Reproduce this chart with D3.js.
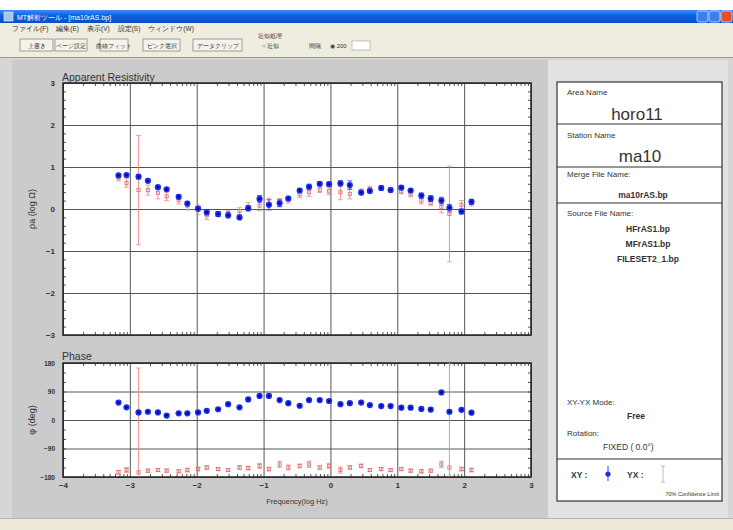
<!DOCTYPE html>
<html>
<head>
<meta charset="utf-8">
<script src="https://cdn.jsdelivr.net/npm/d3@7"></script>
<style>
  html, body { margin: 0; padding: 0; background: #ffffff; }
  svg { display: block; font-family: "Liberation Sans", Arial, sans-serif; }
</style>
</head>
<body>
<svg id="app" width="733" height="530"></svg>
<script>
// ---- station data: frequency (log10 Hz) ----
const freqLog = [-3.17,-3.05,-2.87,-2.73,-2.58,-2.45,-2.27,-2.14,-1.98,-1.85,-1.68,-1.53,-1.36,-1.23,-1.06,-0.92,-0.76,-0.63,-0.46,-0.32,-0.16,-0.02,0.15,0.29,0.46,0.59,0.76,0.90,1.06,1.20,1.36,1.50,1.66,1.78,1.96,2.11];

// apparent resistivity, log10(ohm-m)
const rhoXY    = [0.80,0.81,0.77,0.67,0.52,0.47,0.29,0.13,0.01,-0.08,-0.12,-0.15,-0.20,0.02,0.24,0.10,0.14,0.25,0.44,0.53,0.60,0.59,0.61,0.57,0.39,0.43,0.50,0.45,0.51,0.44,0.32,0.25,0.20,0.03,-0.06,0.17];
const rhoXYErr = [0.04,0.04,0.05,0.04,0.04,0.04,0.05,0.05,0.05,0.06,0.06,0.06,0.05,0.06,0.08,0.12,0.08,0.05,0.05,0.06,0.05,0.05,0.06,0.10,0.05,0.04,0.05,0.04,0.05,0.04,0.06,0.07,0.08,0.08,0.06,0.06];
const rhoYX    = [0.75,0.62,0.45,0.45,0.38,0.30,0.22,0.08,-0.02,-0.15,-0.12,-0.10,-0.05,0.05,0.08,0.12,0.15,0.22,0.35,0.40,0.45,0.42,0.40,0.36,0.42,0.48,0.50,0.46,0.42,0.35,0.20,0.15,0.05,-0.12,0.10,0.15];
const rhoYXErr = [0.08,0.10,1.30,0.12,0.14,0.10,0.10,0.10,0.12,0.10,0.06,0.06,0.08,0.10,0.12,0.14,0.10,0.08,0.08,0.10,0.06,0.08,0.18,0.12,0.06,0.06,0.06,0.06,0.06,0.06,0.08,0.06,0.14,1.14,0.10,0.08];

// impedance phase, degrees
const phiXY    = [55,40,24,26,24,14,21,21,24,29,34,50,40,65,76,76,63,53,45,63,63,60,50,53,55,47,44,44,39,39,35,33,87,26,32,23];
const phiXYErr = [4,4,4,4,4,4,4,4,4,4,4,5,4,5,5,5,5,5,5,5,5,5,6,5,5,5,5,5,5,5,5,5,6,6,5,5];
const phiYX    = [-165,-158,-165,-160,-158,-160,-162,-158,-155,-150,-155,-158,-150,-152,-145,-155,-140,-150,-145,-140,-150,-145,-158,-150,-145,-158,-155,-158,-155,-160,-162,-160,-140,-150,-155,-158];
const phiYXErr = [6,8,329,5,5,5,5,6,6,6,5,5,6,6,8,6,10,8,6,10,6,8,10,6,6,5,5,5,5,5,5,5,10,330,6,6];

// axis ticks
const freqTicks = [-4,-3,-2,-1,0,1,2,3];
const rhoTicks  = [-3,-2,-1,0,1,2,3];
const phiTicks  = [-180,-90,0,90,180];

// info panel text
const areaName    = "horo11";
const stationName = "ma10";
const mergeFile   = "ma10rAS.bp";
const sourceFiles = ["HFrAS1.bp","MFrAS1.bp","FILESET2_1.bp"];
const modeText    = "Free";
const rotationTxt = "FIXED ( 0.0°)";

const menuItems   = ["ファイル(F)","編集(E)","表示(V)","設定(S)","ウィンドウ(W)"];
const toolButtons = [["上書き",20,33],["ページ設定",55,32],["曲線フィット",100,28],["ピンク選択",143,37],["データクリップ",193,49]];

const svg = d3.select("#app");
const fmt = d3.format("d");

// ---------- window chrome ----------
const defs = svg.append("defs");
const tg = defs.append("linearGradient").attr("id","titleGrad").attr("x1",0).attr("y1",0).attr("x2",0).attr("y2",1);
tg.append("stop").attr("offset","0%").attr("stop-color","#3a8cf6");
tg.append("stop").attr("offset","45%").attr("stop-color","#0b5ee0");
tg.append("stop").attr("offset","100%").attr("stop-color","#0a4fc6");

svg.append("rect").attr("x",0).attr("y",0).attr("width",733).attr("height",530).attr("fill","#ffffff");
svg.append("rect").attr("x",0).attr("y",10).attr("width",733).attr("height",13).attr("fill","url(#titleGrad)");
svg.append("rect").attr("x",4).attr("y",12).attr("width",9).attr("height",9).attr("fill","#9fc4f0").attr("stroke","#e6f0ff").attr("stroke-width",0.6);
svg.append("text").attr("x",17).attr("y",20).attr("font-size",7).attr("fill","#ffffff")
  .text("MT解析ツール - [ma10rAS.bp]");
// caption buttons
[[697,"#3b7ef0"],[709,"#3b7ef0"],[721,"#e0502c"]].forEach(([bx,c]) => {
  svg.append("rect").attr("x",bx).attr("y",11).attr("width",11).attr("height",11).attr("rx",2)
    .attr("fill",c).attr("stroke","#e8f0ff").attr("stroke-width",0.7);
});

// menu + toolbar
svg.append("rect").attr("x",0).attr("y",23).attr("width",733).attr("height",35).attr("fill","#efece0");
svg.append("line").attr("x1",0).attr("x2",733).attr("y1",57.5).attr("y2",57.5).attr("stroke","#9d9a8c");
let mx = 12;
menuItems.forEach(m => {
  const t = svg.append("text").attr("x",mx).attr("y",31).attr("font-size",6.5).attr("fill","#333").text(m);
  mx += t.node().getComputedTextLength() + 8;
});
toolButtons.forEach(([lab,bx,bw]) => {
  svg.append("rect").attr("x",bx).attr("y",39).attr("width",bw).attr("height",12)
    .attr("fill","#f4f2ea").attr("stroke","#8c8a80").attr("stroke-width",0.8);
  svg.append("text").attr("x",bx+bw/2).attr("y",48).attr("text-anchor","middle")
    .attr("font-size",6).attr("fill","#333").text(lab);
});
svg.append("text").attr("x",258).attr("y",38).attr("font-size",6).attr("fill","#333").text("近似処理");
svg.append("text").attr("x",262).attr("y",48).attr("font-size",6).attr("fill","#333").text("○ 近似");
svg.append("text").attr("x",309).attr("y",48).attr("font-size",6).attr("fill","#333").text("間隔");
svg.append("text").attr("x",330).attr("y",48).attr("font-size",6).attr("fill","#333").text("◉ 200");
svg.append("rect").attr("x",352).attr("y",41).attr("width",18).attr("height",9).attr("fill","#ffffff").attr("stroke","#999").attr("stroke-width",0.6);

// client area
svg.append("rect").attr("x",0).attr("y",58).attr("width",733).attr("height",460).attr("fill","#d6d6d6");
svg.append("rect").attr("x",12).attr("y",60).attr("width",536).attr("height",458).attr("fill","#cbcbcb");
svg.append("rect").attr("x",548).attr("y",60).attr("width",180).attr("height",458).attr("fill","#e2e2e2");
svg.append("rect").attr("x",0).attr("y",518).attr("width",733).attr("height",12).attr("fill","#ece9d8");
svg.append("line").attr("x1",0).attr("x2",733).attr("y1",518.5).attr("y2",518.5).attr("stroke","#b8b5a8");

// ---------- scales ----------
const x   = d3.scaleLinear().domain([-4,3]).range([63,531]);
const yR  = d3.scaleLinear().domain([-3,3]).range([335,83]);
const yP  = d3.scaleLinear().domain([-180,180]).range([477,363]);

const colXY = "#1a2cf0", colXYc = "#00006a", colYX = "#ee8a8a";

function panel(yScale, ticks, minorStep, clipId, labelSize) {
  const [y0, y1] = yScale.range(); // bottom, top
  const g = svg.append("g");
  defs.append("clipPath").attr("id",clipId).append("rect")
    .attr("x",x.range()[0]).attr("y",y1).attr("width",x.range()[1]-x.range()[0]).attr("height",y0-y1);
  g.append("rect").attr("x",x.range()[0]).attr("y",y1)
    .attr("width",x.range()[1]-x.range()[0]).attr("height",y0-y1).attr("fill","#ffffff");

  // grid lines
  g.append("g").attr("transform",`translate(0,${y0})`)
    .call(d3.axisBottom(x).tickValues(freqTicks).tickSize(-(y0-y1)).tickFormat(""))
    .call(a => a.select(".domain").remove())
    .call(a => a.selectAll("line").attr("stroke","#555").attr("stroke-width",1));
  g.append("g").attr("transform",`translate(${x.range()[0]},0)`)
    .call(d3.axisLeft(yScale).tickValues(ticks).tickSize(-(x.range()[1]-x.range()[0])).tickFormat(""))
    .call(a => a.select(".domain").remove())
    .call(a => a.selectAll("line").attr("stroke","#555").attr("stroke-width",1));

  // minor ticks: log spaced on x, linear on y
  const xMinor = [];
  for (let d = -4; d < 3; d++) for (let k = 2; k <= 9; k++) xMinor.push(d + Math.log10(k));
  const yMinor = d3.range(yScale.domain()[0], yScale.domain()[1] + 1e-9, minorStep);
  [[y0, 3],[y1,-3]].forEach(([yy,dir]) => {
    g.append("g").attr("transform",`translate(0,${yy})`)
      .call((dir > 0 ? d3.axisTop(x) : d3.axisBottom(x)).tickValues(xMinor).tickSize(3).tickFormat(""))
      .call(a => a.select(".domain").remove())
      .call(a => a.selectAll("line").attr("stroke","#555"));
  });
  [[x.range()[0], d3.axisRight],[x.range()[1], d3.axisLeft]].forEach(([xx,ax]) => {
    g.append("g").attr("transform",`translate(${xx},0)`)
      .call(ax(yScale).tickValues(yMinor).tickSize(3).tickFormat(""))
      .call(a => a.select(".domain").remove())
      .call(a => a.selectAll("line").attr("stroke","#555"));
  });

  // left tick labels
  g.append("g").attr("transform",`translate(${x.range()[0]},0)`)
    .call(d3.axisLeft(yScale).tickValues(ticks).tickSize(0).tickPadding(8).tickFormat(fmt))
    .call(a => a.select(".domain").remove())
    .call(a => a.selectAll("text").attr("font-size",labelSize).attr("font-weight","bold").attr("fill","#333")
      .attr("font-family","'Liberation Sans', Arial, sans-serif"));

  // frame
  g.append("rect").attr("x",x.range()[0]).attr("y",y1)
    .attr("width",x.range()[1]-x.range()[0]).attr("height",y0-y1)
    .attr("fill","none").attr("stroke","#222").attr("stroke-width",1.5);
  return g;
}

function drawSeries(g, yScale, vals, errs, kind, clipId) {
  const data = freqLog.map((f,i) => ({f, v: vals[i], e: errs[i]}));
  const layer = g.append("g").attr("clip-path",`url(#${clipId})`);
  const col = kind === "xy" ? colXY : colYX;
  const eb = layer.selectAll(null).data(data).enter().append("g");
  eb.append("line")
    .attr("x1",d => x(d.f)).attr("x2",d => x(d.f))
    .attr("y1",d => yScale(d.v + d.e)).attr("y2",d => yScale(d.v - d.e))
    .attr("stroke",col).attr("stroke-width",1).attr("opacity",kind === "xy" ? 0.7 : 0.9);
  [1,-1].forEach(s => {
    eb.append("line")
      .attr("x1",d => x(d.f)-2.5).attr("x2",d => x(d.f)+2.5)
      .attr("y1",d => yScale(d.v + s*d.e)).attr("y2",d => yScale(d.v + s*d.e))
      .attr("stroke",col).attr("stroke-width",0.9).attr("opacity",0.85);
  });
  if (kind === "xy") {
    layer.selectAll(null).data(data).enter().append("circle")
      .attr("cx",d => x(d.f)).attr("cy",d => yScale(d.v)).attr("r",3.1).attr("fill",colXY);
    layer.selectAll(null).data(data).enter().append("circle")
      .attr("cx",d => x(d.f)).attr("cy",d => yScale(d.v)).attr("r",1.2).attr("fill",colXYc);
  } else {
    layer.selectAll(null).data(data).enter().append("rect")
      .attr("x",d => x(d.f)-1.6).attr("y",d => yScale(d.v)-1.6).attr("width",3.2).attr("height",3.2)
      .attr("fill","none").attr("stroke","#d87070").attr("stroke-width",0.8);
  }
}

// ---------- apparent resistivity ----------
const gR = panel(yR, rhoTicks, 0.2, "clipR", 8);
drawSeries(gR, yR, rhoYX, rhoYXErr, "yx", "clipR");
drawSeries(gR, yR, rhoXY, rhoXYErr, "xy", "clipR");
svg.append("text").attr("x",62).attr("y",81).attr("font-size",10.5).attr("fill","#333").text("Apparent Resistivity");
svg.append("text").attr("transform",`translate(35,${yR(0)}) rotate(-90)`).attr("text-anchor","middle")
  .attr("font-size",9).attr("fill","#333").text("ρa (log Ω)");

// ---------- phase ----------
const gP = panel(yP, phiTicks, 30, "clipP", 6.5);
drawSeries(gP, yP, phiYX, phiYXErr, "yx", "clipP");
drawSeries(gP, yP, phiXY, phiXYErr, "xy", "clipP");
svg.append("text").attr("x",62).attr("y",360).attr("font-size",10.5).attr("fill","#333").text("Phase");
svg.append("text").attr("transform",`translate(35,${yP(0)}) rotate(-90)`).attr("text-anchor","middle")
  .attr("font-size",9).attr("fill","#333").text("φ (deg)");

// frequency axis labels
svg.append("g").attr("transform",`translate(0,${yP.range()[0]})`)
  .call(d3.axisBottom(x).tickValues(freqTicks).tickSize(0).tickPadding(5).tickFormat(fmt))
  .call(a => a.select(".domain").remove())
  .call(a => a.selectAll("text").attr("font-size",8).attr("font-weight","bold").attr("fill","#333")
    .attr("font-family","'Liberation Sans', Arial, sans-serif"));
svg.append("text").attr("x",297).attr("y",504).attr("text-anchor","middle")
  .attr("font-size",7.5).attr("fill","#333").text("Frequency(log Hz)");

// ---------- info panel ----------
const info = svg.append("g");
info.append("rect").attr("x",557).attr("y",82).attr("width",165).attr("height",419)
  .attr("fill","#ffffff").attr("stroke","#333").attr("stroke-width",1.2);
[124,167,203,459].forEach(yy => info.append("line").attr("x1",557).attr("x2",722)
  .attr("y1",yy).attr("y2",yy).attr("stroke","#333").attr("stroke-width",1.2));
const small = (tx,ty,t,anchor="start",fs=8,w="normal") => info.append("text").attr("x",tx).attr("y",ty)
  .attr("font-size",fs).attr("font-weight",w).attr("fill","#333").attr("text-anchor",anchor).text(t);
small(567,95,"Area Name");
small(637,120,areaName,"middle",17);
small(567,138,"Station Name");
small(640,162,stationName,"middle",17);
small(567,177,"Merge File Name:");
small(643,198,mergeFile,"middle",8.5,"bold");
small(567,216,"Source File Name:");
sourceFiles.forEach((s,i) => small(648,232 + i*15,s,"middle",8.5,"bold"));
small(567,405,"XY-YX Mode:");
small(627,419,modeText,"start",8.5,"bold");
small(567,436,"Rotation:");
small(603,450,rotationTxt,"start",8.5);
small(571,478,"XY :","start",8.5,"bold");
small(627,478,"YX :","start",8.5,"bold");
// legend glyphs
info.append("line").attr("x1",608).attr("x2",608).attr("y1",466).attr("y2",481).attr("stroke",colXY).attr("stroke-width",0.9);
info.append("circle").attr("cx",608).attr("cy",474).attr("r",2.6).attr("fill",colXY);
info.append("line").attr("x1",663).attr("x2",663).attr("y1",466).attr("y2",482).attr("stroke","#b8b8b8").attr("stroke-width",0.9);
[466,482].forEach(yy => info.append("line").attr("x1",661).attr("x2",665).attr("y1",yy).attr("y2",yy).attr("stroke","#b8b8b8"));
small(719,496,"70% Confidence Limit","end",5.5);
</script>
</body>
</html>
